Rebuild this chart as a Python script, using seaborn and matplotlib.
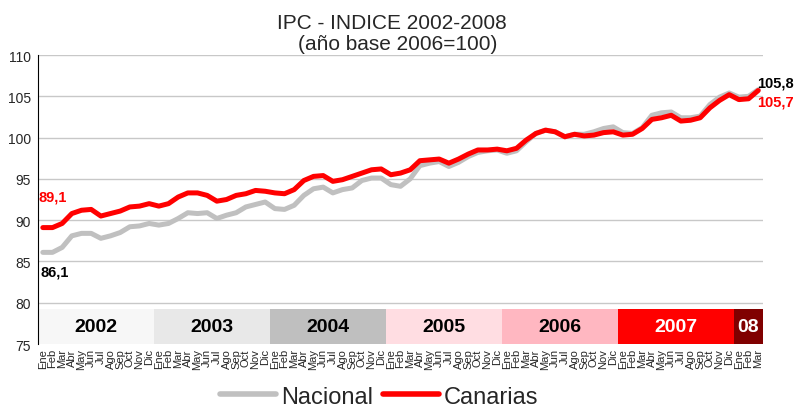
import numpy as np
import pandas as pd
import matplotlib
matplotlib.use("Agg")
import matplotlib.pyplot as plt
import seaborn as sns

# Datos (IPC base 2006=100), Ene 2002 - Mar 2008
meses = ["Ene", "Feb", "Mar", "Abr", "May", "Jun", "Jul", "Ago", "Sep", "Oct", "Nov", "Dic"]
etiquetas = meses * 6 + meses[:3]

nacional = [86.1, 86.1, 86.7, 88.1, 88.4, 88.4, 87.8, 88.1, 88.5, 89.2, 89.3, 89.6,
            89.4, 89.6, 90.2, 90.9, 90.8, 90.9, 90.2, 90.6, 90.9, 91.6, 91.9, 92.2,
            91.4, 91.3, 91.8, 93.0, 93.8, 94.0, 93.3, 93.7, 93.9, 94.8, 95.1, 95.1,
            94.3, 94.1, 95.0, 96.6, 96.9, 97.1, 96.5, 97.0, 97.7, 98.2, 98.4, 98.5,
            98.1, 98.4, 99.5, 100.5, 100.9, 100.7, 100.1, 100.4, 100.4, 100.7, 101.1, 101.3,
            100.6, 100.5, 101.2, 102.7, 103.0, 103.1, 102.4, 102.4, 102.6, 104.0, 104.9, 105.4,
            104.9, 105.0, 105.8]
canarias = [89.1, 89.1, 89.6, 90.8, 91.2, 91.3, 90.5, 90.8, 91.1, 91.6, 91.7, 92.0,
            91.7, 92.0, 92.8, 93.3, 93.3, 93.0, 92.3, 92.5, 93.0, 93.2, 93.6, 93.5,
            93.3, 93.2, 93.7, 94.8, 95.3, 95.4, 94.7, 94.9, 95.3, 95.7, 96.1, 96.2,
            95.5, 95.7, 96.1, 97.2, 97.3, 97.4, 96.9, 97.4, 98.0, 98.5, 98.5, 98.6,
            98.4, 98.7, 99.7, 100.5, 100.9, 100.7, 100.1, 100.4, 100.2, 100.3, 100.6, 100.7,
            100.3, 100.4, 101.1, 102.2, 102.4, 102.7, 102.0, 102.1, 102.4, 103.6, 104.5, 105.2,
            104.6, 104.7, 105.7]

anios = ["2002", "2003", "2004", "2005", "2006", "2007", "08"]
meses_por_anio = [12, 12, 12, 12, 12, 12, 3]
colores_anio = ["#F7F7F7", "#E8E8E8", "#BFBFBF", "#FFDDE2", "#FFB7C1", "#FF0000", "#800000"]
texto_anio = ["black", "black", "black", "black", "black", "white", "white"]

df = pd.DataFrame({
    "mes": np.arange(len(nacional)),
    "Nacional": nacional,
    "Canarias": canarias,
})
df_long = df.melt(id_vars="mes", var_name="serie", value_name="valor")

sns.set_style("white")
plt.rcParams["font.family"] = ["Liberation Sans", "DejaVu Sans"]

fig = plt.figure(figsize=(7.95, 4.1), dpi=100)
ax = fig.add_axes([0.0478, 0.1585, 0.912, 0.7049])

sns.lineplot(data=df_long, x="mes", y="valor", hue="serie",
             palette={"Nacional": "#C0C0C0", "Canarias": "#FF0000"},
             linewidth=3.6, ax=ax, legend=False)

ax.set_xlim(-0.5, len(nacional) - 0.5)
ax.set_ylim(75, 110)
ax.set_yticks(range(75, 111, 5))
for v in range(80, 111, 5):
    ax.axhline(v, color="#C8C8C8", linewidth=1, zorder=0)

# bandas de años
inicio = -0.5
for anio, n, col, tc in zip(anios, meses_por_anio, colores_anio, texto_anio):
    ax.fill_between([inicio, inicio + n], 75, 79.3, color=col, linewidth=0, zorder=1)
    ax.text(inicio + n / 2, 77.15, anio, ha="center", va="center",
            fontsize=14, fontweight="bold", color=tc, zorder=2)
    inicio += n

ax.set_xticks(df["mes"])
ax.set_xticklabels(etiquetas, rotation=90, fontsize=8)
ax.set_xticks(np.arange(-0.5, len(nacional), 1), minor=True)
ax.tick_params(axis="x", which="major", length=0, pad=3)
ax.tick_params(axis="x", which="minor", length=3, width=0.8, color="black", direction="out")
ax.tick_params(axis="y", labelsize=10, length=6, width=0.8, direction="inout", color="black", pad=2)

for s in ["top", "right", "bottom"]:
    ax.spines[s].set_visible(False)
ax.spines["left"].set_color("black")
ax.spines["left"].set_linewidth(0.8)
ax.set_xlabel("")
ax.set_ylabel("")

# etiquetas de valores
ax.text(-0.4, 92.85, "89,1", color="#FF0000", fontsize=10.5, fontweight="bold", va="center")
ax.text(-0.2, 83.8, "86,1", color="black", fontsize=10.5, fontweight="bold", va="center")
fig.text(0.998, 1 - 83.5 / 410, "105,8", color="black", fontsize=10.5, fontweight="bold",
         ha="right", va="center")
fig.text(0.998, 1 - 102.3 / 410, "105,7", color="#FF0000", fontsize=10.5, fontweight="bold",
         ha="right", va="center")

fig.text(0.493, 0.9285, "IPC - INDICE 2002-2008", ha="center", va="baseline", fontsize=15)
fig.text(0.5, 0.878, "(año base 2006=100)", ha="center", va="baseline", fontsize=15)

handles = [plt.Line2D([], [], color="#C0C0C0", linewidth=4),
           plt.Line2D([], [], color="#FF0000", linewidth=4)]
fig.legend(handles, ["Nacional", "Canarias"], loc="center", bbox_to_anchor=(0.477, 0.03),
           ncol=2, frameon=False, fontsize=17, handlelength=2.35, handletextpad=0.2,
           columnspacing=0.45, borderpad=0)

fig.savefig("out.png", dpi=100)
